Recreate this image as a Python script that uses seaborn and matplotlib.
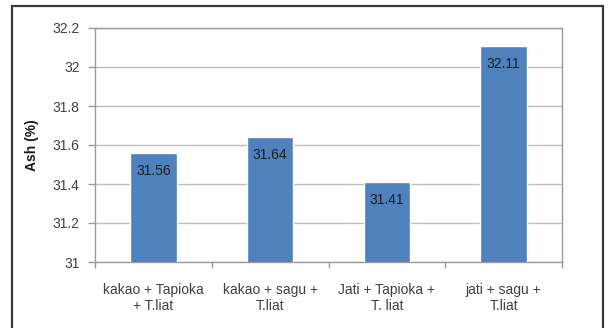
import matplotlib
matplotlib.use("Agg")
import matplotlib.pyplot as plt
import seaborn as sns
import pandas as pd
from matplotlib.patches import Rectangle

categories = ["kakao + Tapioka\n+ T.liat", "kakao + sagu +\nT.liat",
              "Jati + Tapioka +\nT. liat", "jati + sagu +\nT.liat"]
ash_values = [31.56, 31.64, 31.41, 32.11]
y_ticks = [31, 31.2, 31.4, 31.6, 31.8, 32, 32.2]
y_tick_labels = ["31", "31.2", "31.4", "31.6", "31.8", "32", "32.2"]

sns.set_theme(style="white")
plt.rcParams["font.family"] = ["Liberation Sans", "DejaVu Sans"]

df = pd.DataFrame({"mix": categories, "ash": ash_values})

fig = plt.figure(figsize=(6.1, 3.28), dpi=100)
fig.patch.set_facecolor("white")

# outer chart frame
fig.add_artist(Rectangle((12 / 610, -0.05), (603 - 12) / 610, 1.05 - 6 / 328,
                         transform=fig.transFigure, fill=False,
                         edgecolor="#3a3a3a", linewidth=1.6))

ax = fig.add_axes([95 / 610, 1 - 262 / 328, (562 - 95) / 610, (262 - 28) / 328])
sns.barplot(data=df, x="mix", y="ash", color="#4F81BD", width=0.4,
            saturation=1, ax=ax, zorder=3)

ax.set_ylim(31, 32.2)
ax.set_xlim(-0.5, 3.5)
ax.set_yticks(y_ticks)
ax.set_yticklabels(y_tick_labels)
ax.yaxis.grid(True, color="#BEBEBE", linewidth=1.0, zorder=0)
ax.set_axisbelow(True)

for spine in ax.spines.values():
    spine.set_color("#9A9A9A")
    spine.set_linewidth(1.0)

ax.tick_params(axis="y", which="major", length=5, width=1, color="#9A9A9A",
               pad=6, labelsize=10, labelcolor="#404040", left=True)
ax.set_xticks([-0.5, 0.5, 1.5, 2.5, 3.5], minor=True)
ax.tick_params(axis="x", which="minor", length=4, width=1, color="#9A9A9A",
               bottom=True)
ax.tick_params(axis="x", which="major", length=0, pad=15, labelsize=10,
               labelcolor="#404040")

ax.set_xlabel("")
ax.set_ylabel("Ash (%)", fontsize=10, fontweight="bold", color="#1a1a1a",
              labelpad=10)

for i, v in enumerate(ash_values):
    ax.annotate(f"{v:.2f}", xy=(i, v), xytext=(0, -13),
                textcoords="offset points", ha="center", va="center",
                fontsize=10, color="#1f1f1f", zorder=4)

fig.savefig("out.png", dpi=100)
